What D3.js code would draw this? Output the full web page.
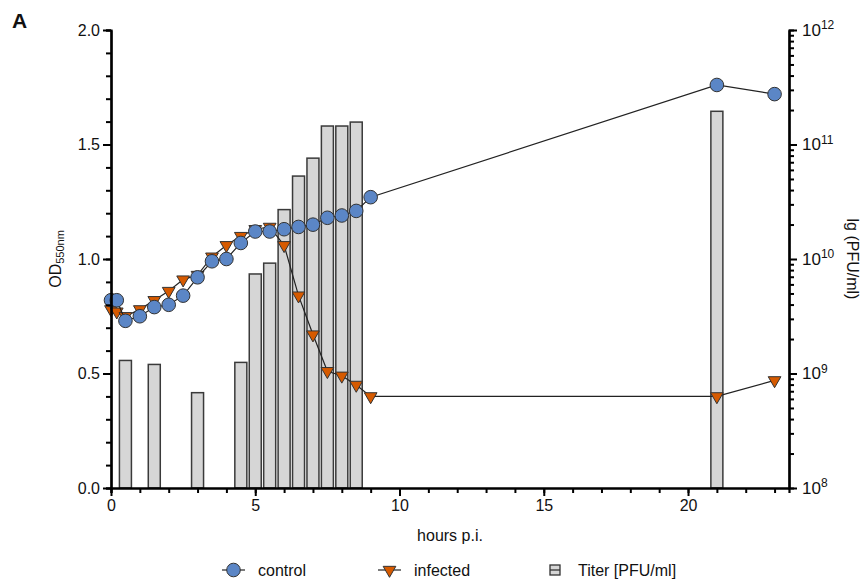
<!DOCTYPE html>
<html>
<head>
<meta charset="utf-8">
<script src="https://cdn.jsdelivr.net/npm/d3@7"></script>
<style>
  body { margin: 0; background: #fff; }
  svg { font-family: "Liberation Sans", Arial, sans-serif; }
</style>
</head>
<body>
<svg id="chart" width="863" height="580"></svg>
<script>
// sampling times (hours p.i.)
var times = [0, 0.2, 0.5, 1, 1.5, 2, 2.5, 3, 3.5, 4, 4.5, 5, 5.5, 6, 6.5, 7, 7.5, 8, 8.5, 9, 21, 23];
var control = [0.82, 0.82, 0.73, 0.75, 0.79, 0.80, 0.84, 0.92, 0.99, 1.00, 1.07, 1.12, 1.12, 1.13, 1.14, 1.15, 1.18, 1.19, 1.21, 1.27, 1.76, 1.72];
var infected = [0.78, 0.77, 0.75, 0.78, 0.82, 0.86, 0.91, 0.93, 1.01, 1.06, 1.10, 1.13, 1.14, 1.06, 0.84, 0.67, 0.51, 0.49, 0.45, 0.40, 0.40, 0.47];

// titer bars
var titerTimes = [0.5, 1.5, 3, 4.5, 5, 5.5, 6, 6.5, 7, 7.5, 8, 8.5, 21];
var titer = [1.3e9, 1.2e9, 6.8e8, 1.25e9, 7.4e9, 9.2e9, 2.7e10, 5.3e10, 7.6e10, 1.45e11, 1.45e11, 1.57e11, 1.95e11];

var xTicks = [0, 5, 10, 15, 20];
var odTicks = [0.0, 0.5, 1.0, 1.5, 2.0];
var logTicks = [8, 9, 10, 11, 12];

var blue = "#5b86c6", orange = "#d65a00";

var svg = d3.select("#chart");
// note: "top" is taken by window.top, so plot edges get their own names
var plotL = 111, plotR = 789, plotT = 30, plotB = 488;

var x = d3.scaleLinear().domain([0, 23.5]).range([plotL, plotR]);
var y = d3.scaleLinear().domain([0, 2]).range([plotB, plotT]);
var yr = d3.scaleLog().domain([1e8, 1e12]).range([plotB, plotT]);

// bars first, they sit behind the curves
var barW = 12;
svg.append("g").selectAll("rect")
  .data(titerTimes)
  .enter().append("rect")
  .attr("x", function(d){ return x(d) - barW/2; })
  .attr("y", function(d, i){ return yr(titer[i]); })
  .attr("width", barW)
  .attr("height", function(d, i){ return plotB - yr(titer[i]); })
  .attr("fill", "#d6d6d6")
  .attr("stroke", "#3a3a3a")
  .attr("stroke-width", 1.5);

var line = d3.line()
  .x(function(d){ return x(d[0]); })
  .y(function(d){ return y(d[1]); });

var tri = d3.symbol().type(d3.symbolTriangle).size(70);

// infected
var inf = times.map(function(t, i){ return [t, infected[i]]; });
svg.append("path").datum(inf)
  .attr("d", line).attr("fill", "none").attr("stroke", "#222").attr("stroke-width", 1.2);
svg.append("g").selectAll("path")
  .data(inf)
  .enter().append("path")
  .attr("d", tri)
  .attr("transform", function(d){ return "translate(" + x(d[0]) + "," + y(d[1]) + ") rotate(180)"; })
  .attr("fill", orange)
  .attr("stroke", "#333")
  .attr("stroke-width", 1);

// control
var ctl = times.map(function(t, i){ return [t, control[i]]; });
svg.append("path").datum(ctl)
  .attr("d", line).attr("fill", "none").attr("stroke", "#222").attr("stroke-width", 1.2);
svg.append("g").selectAll("circle")
  .data(ctl)
  .enter().append("circle")
  .attr("cx", function(d){ return x(d[0]); })
  .attr("cy", function(d){ return y(d[1]); })
  .attr("r", 6.8)
  .attr("fill", blue)
  .attr("stroke", "#333")
  .attr("stroke-width", 1);

// axes
function styleAxis(g){
  g.select(".domain").attr("stroke-width", 2.2);
  g.selectAll(".tick line").attr("stroke-width", 2);
  g.selectAll("text").attr("font-size", 16).attr("fill", "#111");
}

var xMinor = d3.range(0, 24, 1);
svg.append("g").attr("transform", "translate(0," + plotB + ")")
  .call(d3.axisBottom(x).tickValues(xMinor).tickSize(5).tickFormat(""))
  .call(styleAxis);
svg.append("g").attr("transform", "translate(0," + plotB + ")")
  .call(d3.axisBottom(x).tickValues(xTicks).tickSize(8).tickSizeOuter(0).tickPadding(4))
  .call(styleAxis);

var yMinor = d3.range(0, 2.01, 0.1);
svg.append("g").attr("transform", "translate(" + plotL + ",0)")
  .call(d3.axisLeft(y).tickValues(yMinor).tickSize(5).tickFormat(""))
  .call(styleAxis);
svg.append("g").attr("transform", "translate(" + plotL + ",0)")
  .call(d3.axisLeft(y).tickValues(odTicks).tickSize(8).tickSizeOuter(0).tickFormat(d3.format(".1f")).tickPadding(3))
  .call(styleAxis);

var rMinor = [];
for (var e = 8; e < 12; e++) for (var m = 2; m < 10; m++) rMinor.push(m * Math.pow(10, e));
svg.append("g").attr("transform", "translate(" + plotR + ",0)")
  .call(d3.axisRight(yr).tickValues(rMinor).tickSize(5).tickFormat(""))
  .call(styleAxis);
var rAxis = svg.append("g").attr("transform", "translate(" + plotR + ",0)")
  .call(d3.axisRight(yr).tickValues(logTicks.map(function(p){ return Math.pow(10, p); })).tickSize(8).tickSizeOuter(0).tickFormat(""))
  .call(styleAxis);
// power-of-ten labels with superscripts
rAxis.selectAll(".tick").each(function(d, i){
  var t = d3.select(this).append("text")
    .attr("x", 13).attr("dy", "0.32em")
    .attr("fill", "#111").attr("font-size", 17).attr("text-anchor", "start");
  t.append("tspan").text("10");
  t.append("tspan").attr("dy", "-0.55em").attr("font-size", 12).text(logTicks[i]);
});

// axis titles
var od = svg.append("text")
  .attr("transform", "translate(61," + y(1) + ") rotate(-90)")
  .attr("text-anchor", "middle").attr("font-size", 16).attr("fill", "#111");
od.append("tspan").text("OD");
od.append("tspan").attr("dy", "0.3em").attr("font-size", 11).text("550nm");

svg.append("text")
  .attr("transform", "translate(847," + yr(1e10) + ") rotate(90)")
  .attr("text-anchor", "middle").attr("font-size", 16).attr("fill", "#111")
  .text("lg (PFU/ml)");

svg.append("text")
  .attr("x", (x(0) + x(23.5)) / 2).attr("y", 541)
  .attr("text-anchor", "middle").attr("font-size", 16).attr("fill", "#111")
  .text("hours p.i.");

svg.append("text")
  .attr("x", 12).attr("y", 28)
  .attr("font-size", 21).attr("font-weight", "bold").attr("fill", "#111")
  .text("A");

// legend
var legY = 570;
var lg = svg.append("g");
lg.append("line").attr("x1", 222).attr("x2", 245).attr("y1", legY).attr("y2", legY).attr("stroke", "#222").attr("stroke-width", 1.2);
lg.append("circle").attr("cx", 233.5).attr("cy", legY).attr("r", 6.8).attr("fill", blue).attr("stroke", "#333");
lg.append("text").attr("x", 258).attr("y", legY + 6).attr("font-size", 16).attr("fill", "#111").text("control");

lg.append("line").attr("x1", 378).attr("x2", 401).attr("y1", legY).attr("y2", legY).attr("stroke", "#222").attr("stroke-width", 1.2);
lg.append("path").attr("d", tri).attr("transform", "translate(389.5," + legY + ") rotate(180)").attr("fill", orange).attr("stroke", "#333");
lg.append("text").attr("x", 414).attr("y", legY + 6).attr("font-size", 16).attr("fill", "#111").text("infected");

lg.append("rect").attr("x", 550).attr("y", legY - 5).attr("width", 10).attr("height", 10).attr("fill", "#d6d6d6").attr("stroke", "#333").attr("stroke-width", 1.3);
lg.append("line").attr("x1", 550).attr("x2", 560).attr("y1", legY).attr("y2", legY).attr("stroke", "#333").attr("stroke-width", 1.3);
lg.append("text").attr("x", 578).attr("y", legY + 6).attr("font-size", 16).attr("fill", "#111").text("Titer [PFU/ml]");
</script>
</body>
</html>
